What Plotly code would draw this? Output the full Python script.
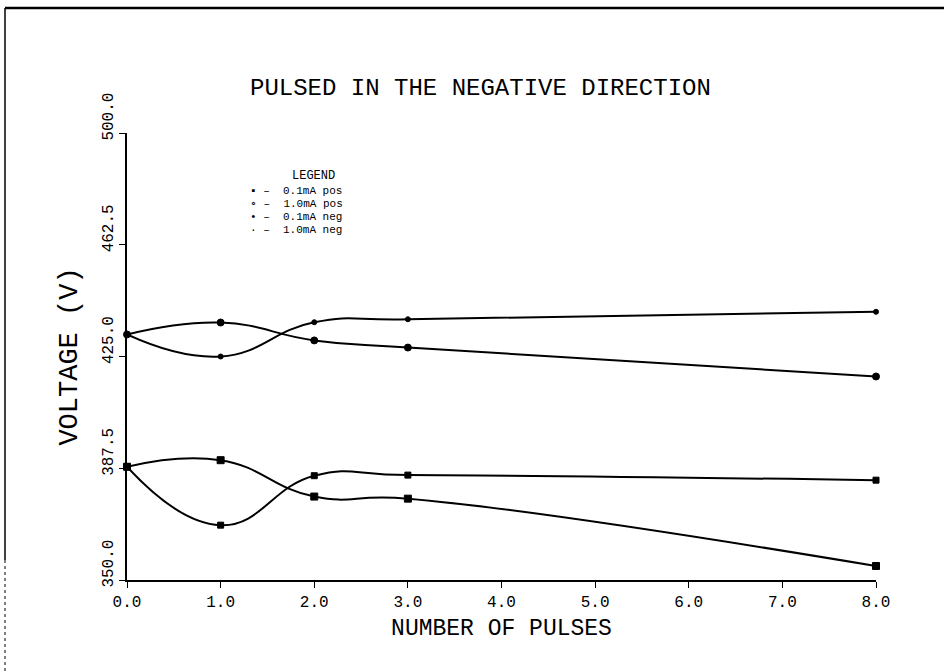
import plotly.graph_objects as go

# Pulse counts at which voltage was recorded
pulses = [0, 1, 2, 3, 8]

# Measured voltages (V) for each drive current / polarity
v_01ma_pos = [388.0, 390.2, 378.0, 377.3, 354.7]
v_10ma_pos = [388.0, 368.4, 385.0, 385.2, 383.5]
v_01ma_neg = [432.4, 436.4, 430.4, 428.0, 418.3]
v_10ma_neg = [432.4, 425.0, 436.5, 437.5, 440.0]

x_ticks = [0, 1, 2, 3, 4, 5, 6, 7, 8]
x_tick_text = ["0.0", "1.0", "2.0", "3.0", "4.0", "5.0", "6.0", "7.0", "8.0"]
y_ticks = [350.0, 387.5, 425.0, 462.5, 500.0]
y_tick_text = ["350.0", "387.5", "425.0", "462.5", "500.0"]

legend_title = "LEGEND"
legend_rows = ["\u25aa \u2013  0.1mA pos", "\u2218 \u2013  1.0mA pos",
               "\u2022 \u2013  0.1mA neg", "\u00b7 \u2013  1.0mA neg"]

FONT = "Liberation Mono"
W, H = 944, 672
L, R, T, B = 127, 68, 133, 92
PW, PH = W - L - R, H - T - B


def px(xp):
    return (xp - L) / PW


def py(yp):
    return (H - B - yp) / PH


series = [
    (v_01ma_pos, "square", 7),
    (v_10ma_pos, "square", 6),
    (v_01ma_neg, "circle", 7),
    (v_10ma_neg, "circle", 5),
]

fig = go.Figure()
for vals, sym, size in series:
    fig.add_trace(go.Scatter(
        x=pulses, y=vals, mode="lines+markers",
        line=dict(color="black", width=2, shape="spline", smoothing=1.3),
        marker=dict(symbol=sym, size=size, color="black",
                    line=dict(color="black", width=1)),
        cliponaxis=False, showlegend=False,
    ))

fig.update_layout(
    width=W, height=H,
    margin=dict(l=L, r=R, t=T, b=B),
    paper_bgcolor="white", plot_bgcolor="white",
    font=dict(family=FONT, color="black"),
    xaxis=dict(range=[0, 8], tickvals=x_ticks, ticktext=x_tick_text,
               showgrid=False, zeroline=False, showline=True,
               linecolor="black", linewidth=1.5, ticks="outside",
               ticklen=6, tickcolor="black", tickfont=dict(size=16),
               title=dict(text="NUMBER OF PULSES", font=dict(size=23),
                          standoff=8)),
    yaxis=dict(range=[350, 500], tickvals=y_ticks, ticktext=y_tick_text,
               showgrid=False, zeroline=False, showline=True,
               linecolor="black", linewidth=1.5, ticks="outside",
               ticklen=6, tickcolor="black", tickfont=dict(size=16),
               tickangle=-90, ticklabelshift=-14,
               title=dict(text="VOLTAGE (V)", font=dict(size=27),
                          standoff=14)),
)

# Title
fig.add_annotation(text="PULSED IN THE NEGATIVE DIRECTION",
                   xref="paper", yref="paper", x=px(480), y=py(88),
                   showarrow=False, font=dict(size=24, family=FONT),
                   xanchor="center", yanchor="middle")

# Legend block
fig.add_annotation(text=legend_title, xref="paper", yref="paper",
                   x=px(290), y=py(176), showarrow=False,
                   font=dict(size=12, family=FONT),
                   xanchor="left", yanchor="middle")
for i, row in enumerate(legend_rows):
    fig.add_annotation(text=row, xref="paper", yref="paper",
                       x=px(248), y=py(191 + 13 * i), showarrow=False,
                       font=dict(size=11, family=FONT),
                       xanchor="left", yanchor="middle")

# Page frame
fig.add_shape(type="line", xref="paper", yref="paper",
              x0=px(5), x1=px(944), y0=py(8), y1=py(8),
              line=dict(color="black", width=2.5))
fig.add_shape(type="line", xref="paper", yref="paper",
              x0=px(5), x1=px(5), y0=py(8), y1=py(560),
              line=dict(color="black", width=1.5))
fig.add_shape(type="line", xref="paper", yref="paper",
              x0=px(5), x1=px(5), y0=py(560), y1=py(672),
              line=dict(color="black", width=1, dash="dot"))

fig.write_html("out.html")
